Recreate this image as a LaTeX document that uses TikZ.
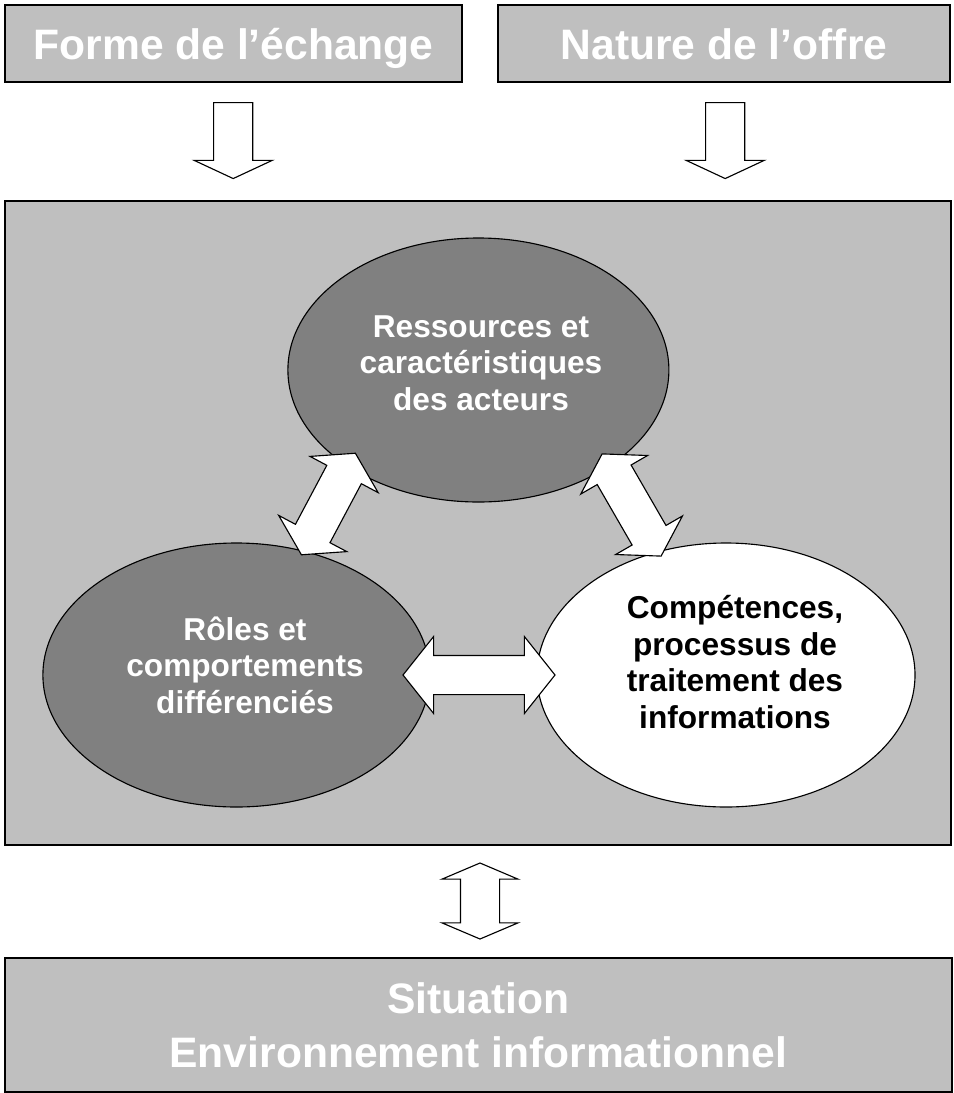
\documentclass[tikz,border=0pt]{standalone}
\usepackage{fontspec}
\setmainfont{Liberation Sans}
\usetikzlibrary{shapes.geometric,shapes.arrows}
\definecolor{boxgray}{gray}{0.75}
\definecolor{ellgray}{gray}{0.5}
\tikzset{
    headbox/.style={draw,line width=1.2pt,fill=boxgray,text=white,inner sep=0pt,align=center,text depth=0pt,
        font=\fontsize{30.3}{39}\selectfont\bfseries},
    ell/.style={ellipse,draw,line width=0.8pt,inner sep=0pt,minimum height=6.6cm},
    elltext/.style={inner sep=0pt,align=center,text depth=0pt,font=\fontsize{22.5}{25.9}\selectfont\bfseries},
    downarrow/.style={single arrow,draw,fill=white,line width=0.8pt,rotate=-90,inner xsep=0pt,inner ysep=0.475cm,
        minimum width=0pt,minimum height=1.9cm,single arrow head extend=0.4875cm,single arrow tip angle=130},
    dblarrow/.style={double arrow,draw,fill=white,line width=0.8pt,inner xsep=0pt,inner ysep=0.475cm,
        minimum width=0pt,double arrow head extend=0.475cm}
}
\begin{document}
\begin{tikzpicture}
                \useasboundingbox (0,0) rectangle (23.85,-27.325);
                \node[headbox,minimum width=11.43cm,minimum height=1.93cm] (forme) at (5.84,-1.09) {Forme de l’échange};
                \node[headbox,minimum width=11.3cm,minimum height=1.93cm] (offre) at (18.1,-1.09) {Nature de l’offre};
                \node[downarrow] (af) at (5.83,-3.4) {};
                \node[downarrow] (ao) at (18.13,-3.4) {};
                \node[draw,line width=1.2pt,fill=boxgray,minimum width=23.65cm,minimum height=16.1cm] (cadre) at (11.95,-13.075) {};
                \node[ell,fill=ellgray,minimum width=9.525cm] (res) at (11.96,-9.25) {};
                \node[ell,fill=ellgray,minimum width=9.675cm] (rol) at (5.91,-16.875) {};
                \node[ell,fill=white,minimum width=9.45cm] (comp) at (18.15,-16.875) {};
                \node[elltext,text=white] (tres) at (12.025,-9.075) {Ressources et\\caractéristiques\\des acteurs};
                \node[elltext,text=white] (trol) at (6.125,-16.625) {Rôles et\\comportements\\différenciés};
                \node[elltext,text=black] (tcomp) at (18.375,-16.55) {Compétences,\\processus de\\traitement des\\informations};
                \node[dblarrow,minimum height=2.875cm,double arrow tip angle=116,rotate=62] (a1) at (8.21,-12.6) {};
                \node[dblarrow,minimum height=2.95cm,double arrow tip angle=116,rotate=120] (a2) at (15.79,-12.625) {};
                \node[dblarrow,minimum height=3.8cm,double arrow tip angle=103] (a3) at (11.975,-16.875) {};
                \node[dblarrow,minimum height=1.9cm,double arrow tip angle=134,double arrow head extend=0.4625cm,rotate=90] (a4) at (12.0,-22.525) {};
                \node[headbox,minimum width=23.675cm,minimum height=3.35cm] (sit) at (11.96,-25.625) {Situation\\Environnement informationnel};
            \end{tikzpicture}
\end{document}
